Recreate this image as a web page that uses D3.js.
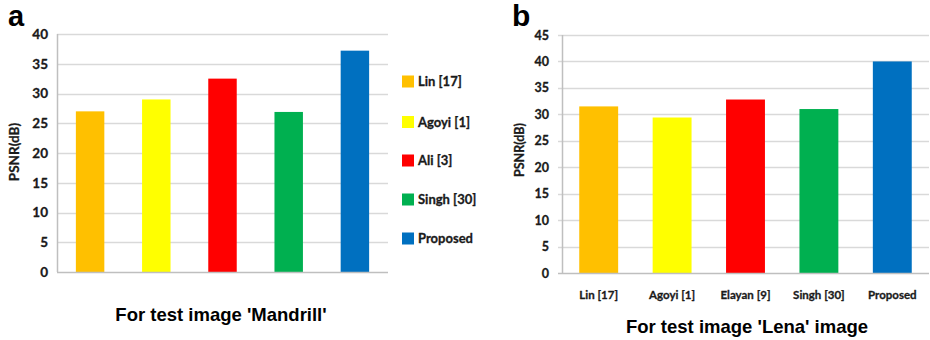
<!DOCTYPE html>
<html><head><meta charset="utf-8">
<script src="https://cdn.jsdelivr.net/npm/d3@7"></script>
<style>
html,body{margin:0;padding:0;background:#fff;}
svg{display:block;}
</style></head>
<body>
<svg id="c" width="930" height="340"></svg>
<script>
// Panel a data
const catsA = ["Lin [17]", "Agoyi [1]", "Ali [3]", "Singh [30]", "Proposed"];
const valsA = [27.0, 29.0, 32.5, 26.9, 37.2];
const ticksA = [0, 5, 10, 15, 20, 25, 30, 35, 40];
// Panel b data
const catsB = ["Lin [17]", "Agoyi [1]", "Elayan [9]", "Singh [30]", "Proposed"];
const valsB = [31.5, 29.4, 32.8, 31.0, 40.0];
const ticksB = [0, 5, 10, 15, 20, 25, 30, 35, 40, 45];
const colors = ["#FFC000", "#FFFF00", "#FF0000", "#00B050", "#0070C0"];
const yTitle = "PSNR(dB)";
const titleA = "For test image 'Mandrill'";
const titleB = "For test image 'Lena' image";

const svg = d3.select("#c");
const tickFont = "Lato, 'Open Sans', sans-serif";
const titleFont = "'Liberation Sans', Arial, sans-serif";
const gridColor = "#D9D9D9";
const axisColor = "#BFBFBF";
const textColor = "#1a1a1a";

// detect whether a real bold face of Lato exists; make it heavier either way
const probe = svg.append("g");
const t1 = probe.append("text").attr("font-family", tickFont).attr("font-size", 40).attr("font-weight", 400).text("Proposed Singh 30");
const t2 = probe.append("text").attr("font-family", tickFont).attr("font-size", 40).attr("font-weight", 700).text("Proposed Singh 30");
const hasBold = Math.abs(t1.node().getComputedTextLength() - t2.node().getComputedTextLength()) > 1;
probe.remove();
function boldify(sel, w) {
  sel.attr("font-weight", "bold")
    .attr("stroke", textColor)
    .attr("stroke-width", hasBold ? 0.3 : (w || 0.6))
    .attr("stroke-linejoin", "round");
  return sel;
}

function panel(opts) {
  const g = svg.append("g");
  const x = d3.scaleBand().domain(opts.cats).range([opts.x0, opts.x1]).paddingInner(opts.pad).paddingOuter(opts.pad / 2);
  const y = d3.scaleLinear().domain([0, opts.ymax]).range([opts.y0, opts.y1]);
  // gridlines
  g.append("g").selectAll("line").data(opts.ticks.filter(t => t > 0)).join("line")
    .attr("x1", opts.x0 - opts.tick).attr("x2", opts.x1)
    .attr("y1", d => Math.round(y(d)) + 0.5).attr("y2", d => Math.round(y(d)) + 0.5)
    .attr("stroke", gridColor).attr("stroke-width", 1.5);
  // y axis line
  g.append("line").attr("x1", opts.x0 + 0.5).attr("x2", opts.x0 + 0.5)
    .attr("y1", y(opts.ymax)).attr("y2", y(0)).attr("stroke", axisColor).attr("stroke-width", 1.5);
  // bars
  g.append("g").selectAll("rect").data(opts.vals).join("rect")
    .attr("x", (d, i) => x(opts.cats[i]))
    .attr("width", x.bandwidth())
    .attr("y", d => y(d))
    .attr("height", d => y(0) - y(d))
    .attr("fill", (d, i) => colors[i]);
  // baseline
  g.append("line").attr("x1", opts.x0 - opts.tick).attr("x2", opts.x1)
    .attr("y1", Math.round(y(0)) + 0.5).attr("y2", Math.round(y(0)) + 0.5)
    .attr("stroke", axisColor).attr("stroke-width", 1.5);
  // tick labels
  boldify(g.append("g").selectAll("text").data(opts.ticks).join("text")
    .attr("x", opts.labelX).attr("y", d => y(d)).attr("dy", "0.36em")
    .attr("text-anchor", "end")
    .attr("font-family", tickFont).attr("font-size", opts.tickSize)
    .attr("fill", textColor)
    .text(d => d));
  // y title
  boldify(g.append("text")
    .attr("transform", `translate(${opts.ytX},${opts.ytY}) rotate(-90)`)
    .attr("text-anchor", "middle").attr("dy", "0.35em")
    .attr("font-family", tickFont).attr("font-size", opts.ytSize)
    .attr("fill", textColor).text(yTitle));
  // panel letter
  g.append("text").attr("x", opts.letterX).attr("y", 26)
    .attr("font-family", titleFont).attr("font-weight", "bold").attr("font-size", opts.letterSize)
    .attr("fill", "#000").text(opts.letter);
  // title
  g.append("text").attr("x", opts.titleX).attr("y", opts.titleY)
    .attr("text-anchor", "middle")
    .attr("font-family", titleFont).attr("font-weight", "bold").attr("font-size", 18.5)
    .attr("fill", "#000").text(opts.title);
  return { g, x, y };
}

// Panel a
const pa = panel({
  cats: catsA, vals: valsA, ticks: ticksA, ymax: 40,
  x0: 57, x1: 388, y0: 272, y1: 34, pad: 0.57, tick: 0,
  labelX: 48, tickSize: 13.5, ytX: 14, ytY: 152, ytSize: 13.5,
  letter: "a", letterSize: 29, letterX: 8, title: titleA, titleX: 221, titleY: 321
});
// legend for panel a
const leg = svg.append("g");
const legY = [81.5, 122, 160.5, 199.5, 238.5];
catsA.forEach((c, i) => {
  leg.append("rect").attr("x", 402).attr("y", legY[i] - 6).attr("width", 12).attr("height", 12).attr("fill", colors[i]);
  boldify(leg.append("text").attr("x", 418).attr("y", legY[i]).attr("dy", "0.36em")
    .attr("font-family", tickFont).attr("font-size", 13)
    .attr("fill", textColor).text(c));
});

// Panel b
const pb = panel({
  cats: catsB, vals: valsB, ticks: ticksB, ymax: 45,
  x0: 562, x1: 929, y0: 273, y1: 35, pad: 0.47, tick: 4,
  labelX: 549, tickSize: 12.5, ytX: 520, ytY: 150, ytSize: 12.5,
  letter: "b", letterSize: 30, letterX: 512, title: titleB, titleX: 747, titleY: 333
});
boldify(pb.g.append("g").selectAll("text").data(catsB).join("text")
  .attr("x", d => pb.x(d) + pb.x.bandwidth() / 2).attr("y", 299)
  .attr("text-anchor", "middle")
  .attr("font-family", tickFont).attr("font-size", 11.5)
  .attr("fill", textColor).text(d => d), 0.5);
</script>
</body></html>
